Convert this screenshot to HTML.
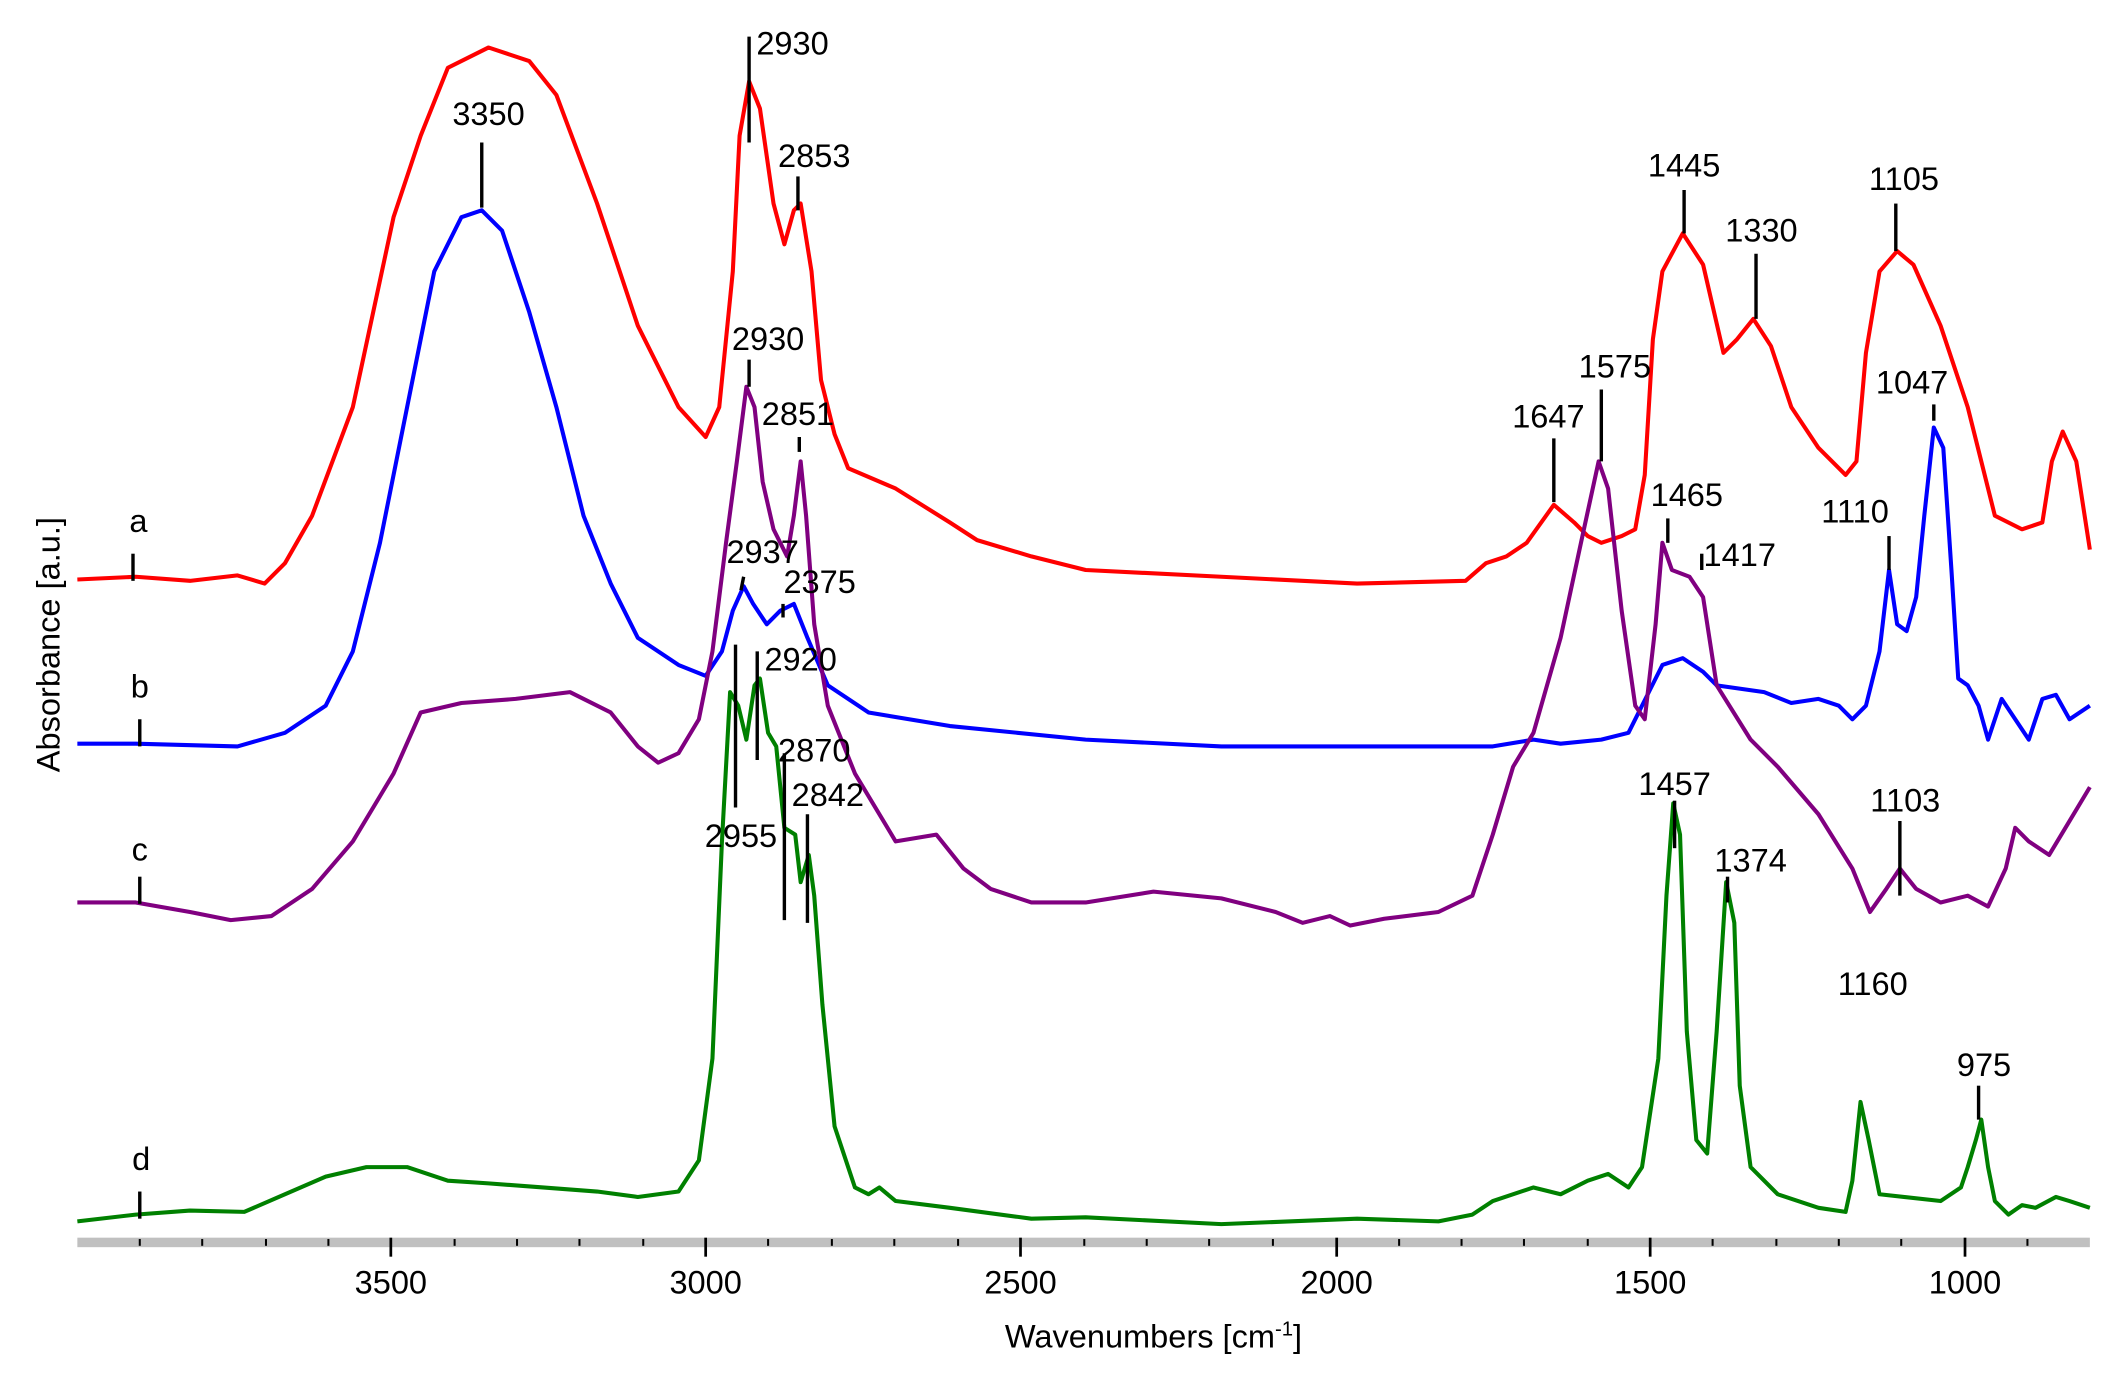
<!DOCTYPE html>
<html><head><meta charset="utf-8"><style>
html,body{margin:0;padding:0;background:#fff;}
svg{display:block;}
text{font-family:"Liberation Sans Narrow","Liberation Sans",sans-serif;font-size:24px;fill:#000;}
.c{fill:none;stroke-width:3;stroke-linejoin:round;}
.m{stroke:#000;stroke-width:2.5;}
</style></head><body>
<svg width="2117" height="1378" viewBox="0 0 1560 1015.4" preserveAspectRatio="none" xmlns="http://www.w3.org/2000/svg">
<rect x="57" y="912" width="1483" height="7" fill="#c0c0c0"/>
<g stroke="#000" stroke-width="2">
<line x1="288" y1="912" x2="288" y2="926"/><line x1="520" y1="912" x2="520" y2="926"/><line x1="752" y1="912" x2="752" y2="926"/><line x1="985" y1="912" x2="985" y2="926"/><line x1="1216" y1="912" x2="1216" y2="926"/><line x1="1448" y1="912" x2="1448" y2="926"/>
</g>
<g stroke="#000" stroke-width="1.5">
<line x1="103" y1="913" x2="103" y2="918"/><line x1="149" y1="913" x2="149" y2="918"/><line x1="196" y1="913" x2="196" y2="918"/><line x1="242" y1="913" x2="242" y2="918"/><line x1="335" y1="913" x2="335" y2="918"/><line x1="381" y1="913" x2="381" y2="918"/><line x1="427" y1="913" x2="427" y2="918"/><line x1="474" y1="913" x2="474" y2="918"/><line x1="566" y1="913" x2="566" y2="918"/><line x1="613" y1="913" x2="613" y2="918"/><line x1="659" y1="913" x2="659" y2="918"/><line x1="706" y1="913" x2="706" y2="918"/><line x1="799" y1="913" x2="799" y2="918"/><line x1="845" y1="913" x2="845" y2="918"/><line x1="891" y1="913" x2="891" y2="918"/><line x1="938" y1="913" x2="938" y2="918"/><line x1="1031" y1="913" x2="1031" y2="918"/><line x1="1077" y1="913" x2="1077" y2="918"/><line x1="1123" y1="913" x2="1123" y2="918"/><line x1="1170" y1="913" x2="1170" y2="918"/><line x1="1262" y1="913" x2="1262" y2="918"/><line x1="1309" y1="913" x2="1309" y2="918"/><line x1="1355" y1="913" x2="1355" y2="918"/><line x1="1401" y1="913" x2="1401" y2="918"/><line x1="1494" y1="913" x2="1494" y2="918"/>
</g>
<g text-anchor="middle">
<text x="288" y="953">3500</text><text x="520" y="953">3000</text><text x="752" y="953">2500</text><text x="985" y="953">2000</text><text x="1216" y="953">1500</text><text x="1448" y="953">1000</text>
<text x="850" y="993" font-size="27">Wavenumbers [cm<tspan dy="-9" font-size="15">-1</tspan><tspan dy="9">]</tspan></text>
<text transform="translate(44,475) rotate(-90)" font-size="27">Absorbance [a.u.]</text>
</g>
<polyline class="c" stroke="#ff0000" points="57,427 100,425 140,428 175,424 195,430 210,415 230,380 260,300 290,160 310,100 330,50 360,35 390,45 410,70 440,150 470,240 500,300 520,322 530,300 540,200 545,100 552,60 560,80 570,150 578,180 585,155 590,150 598,200 605,280 615,320 625,345 660,360 700,385 720,398 760,410 800,420 900,425 1000,430 1080,428 1095,415 1110,410 1125,400 1145,372 1160,385 1170,395 1180,400 1195,395 1205,390 1212,350 1218,250 1225,200 1240,172 1255,195 1270,260 1280,250 1292,235 1305,255 1320,300 1340,330 1360,350 1368,340 1375,260 1385,200 1398,185 1410,195 1430,240 1450,300 1470,380 1490,390 1505,385 1512,340 1520,318 1530,340 1540,405"/>
<polyline class="c" stroke="#0000ff" points="57,548 100,548 175,550 210,540 240,520 260,480 280,400 300,300 320,200 340,160 355,155 370,170 390,230 410,300 430,380 450,430 470,470 500,490 520,498 532,480 540,450 548,432 555,445 565,460 575,450 585,445 595,470 610,505 640,525 700,535 800,545 900,550 1100,550 1130,545 1150,548 1180,545 1200,540 1215,510 1225,490 1240,485 1255,495 1265,505 1300,510 1320,518 1340,515 1355,520 1365,530 1375,520 1385,480 1392,420 1398,460 1405,465 1412,440 1418,380 1425,315 1432,330 1438,420 1443,500 1450,505 1458,520 1465,545 1475,515 1485,530 1495,545 1505,515 1515,512 1525,530 1540,520"/>
<polyline class="c" stroke="#800080" points="57,665 100,665 140,672 170,678 200,675 230,655 260,620 290,570 310,525 340,518 380,515 420,510 450,525 470,550 485,562 500,555 515,530 525,480 535,400 543,340 550,285 556,300 562,355 570,390 580,410 585,380 590,340 594,380 600,460 610,520 630,570 660,620 690,615 710,640 730,655 760,665 800,665 850,657 900,662 940,672 960,680 980,675 995,682 1020,677 1060,672 1085,660 1100,615 1115,565 1130,540 1150,470 1165,400 1178,340 1185,360 1195,450 1205,520 1212,530 1220,460 1225,400 1232,420 1245,425 1255,440 1265,505 1290,545 1310,565 1340,600 1365,640 1378,672 1390,655 1400,640 1412,655 1430,665 1450,660 1465,668 1478,640 1485,610 1495,620 1510,630 1525,605 1540,580"/>
<polyline class="c" stroke="#008000" points="57,900 100,895 140,892 180,893 210,880 240,867 270,860 300,860 330,870 360,872 400,875 440,878 470,882 500,878 515,855 525,780 532,620 538,510 544,520 550,545 556,505 560,500 566,540 572,550 578,610 586,615 590,650 596,630 600,660 606,740 615,830 630,875 640,880 648,875 660,885 700,890 760,898 800,897 900,902 1000,898 1060,900 1085,895 1100,885 1130,875 1150,880 1170,870 1185,865 1200,875 1210,860 1222,780 1228,660 1233,592 1238,615 1243,760 1250,840 1258,850 1265,760 1272,650 1278,680 1282,800 1290,860 1310,880 1340,890 1360,893 1365,870 1371,812 1377,840 1385,880 1430,885 1445,875 1450,860 1456,840 1460,825 1465,860 1470,885 1480,895 1490,888 1500,890 1515,882 1525,885 1540,890"/>
<g class="m">
<line x1="552" y1="27" x2="552" y2="105"/><line x1="355" y1="105" x2="355" y2="153"/><line x1="588" y1="130" x2="588" y2="155"/><line x1="1241" y1="140" x2="1241" y2="172"/><line x1="1294" y1="187" x2="1294" y2="235"/><line x1="1397" y1="150" x2="1397" y2="185"/><line x1="552" y1="265" x2="552" y2="285"/><line x1="589" y1="322" x2="589" y2="333"/><line x1="1145" y1="323" x2="1145" y2="370"/><line x1="1180" y1="287" x2="1180" y2="340"/><line x1="1425" y1="298" x2="1425" y2="310"/><line x1="1229" y1="382" x2="1229" y2="400"/><line x1="1254" y1="408" x2="1254" y2="420"/><line x1="1392" y1="395" x2="1392" y2="420"/><line x1="548" y1="425" x2="546" y2="435"/><line x1="577" y1="445" x2="577" y2="455"/><line x1="558" y1="480" x2="558" y2="560"/><line x1="578" y1="555" x2="578" y2="678"/><line x1="542" y1="475" x2="542" y2="595"/><line x1="595" y1="600" x2="595" y2="680"/><line x1="1234" y1="590" x2="1234" y2="625"/><line x1="1273" y1="646" x2="1273" y2="665"/><line x1="1400" y1="605" x2="1400" y2="660"/><line x1="1458" y1="800" x2="1458" y2="825"/>
<line x1="98" y1="408" x2="98" y2="428"/><line x1="103" y1="530" x2="103" y2="550"/><line x1="103" y1="646" x2="103" y2="666"/><line x1="103" y1="878" x2="103" y2="898"/>
</g>
<g text-anchor="middle">
<text x="584" y="40">2930</text><text x="360" y="92">3350</text><text x="600" y="123">2853</text><text x="1241" y="130">1445</text><text x="1298" y="178">1330</text><text x="1403" y="140">1105</text>
<text x="566" y="258">2930</text><text x="588" y="313">2851</text><text x="1141" y="315">1647</text><text x="1190" y="278">1575</text><text x="1409" y="290">1047</text>
<text x="1243" y="373">1465</text><text x="1282" y="417">1417</text><text x="1367" y="385">1110</text><text x="562" y="415">2937</text><text x="604" y="437">2375</text>
<text x="590" y="494">2920</text><text x="600" y="561">2870</text><text x="546" y="624">2955</text><text x="610" y="594">2842</text>
<text x="1234" y="586">1457</text><text x="1290" y="642">1374</text><text x="1404" y="598">1103</text><text x="1380" y="733">1160</text><text x="1462" y="793">975</text>
<text x="102" y="392">a</text><text x="103" y="514">b</text><text x="103" y="634">c</text><text x="104" y="862">d</text>
</g>
</svg>
</body></html>
